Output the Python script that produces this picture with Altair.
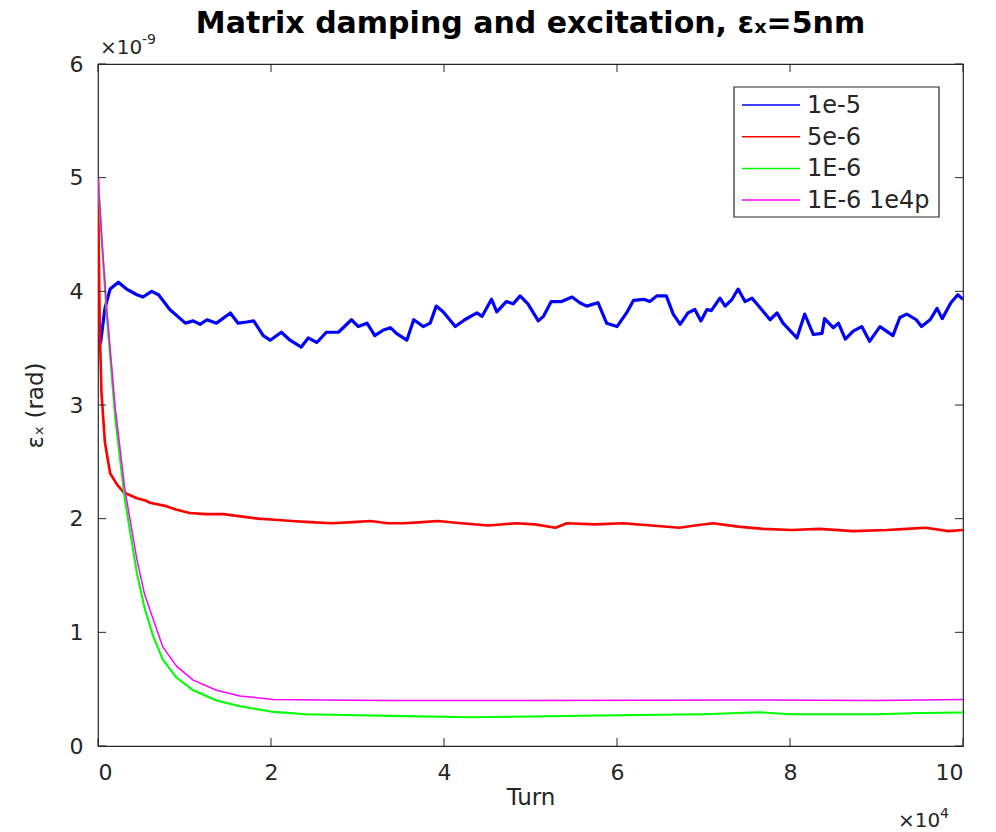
import altair as alt
import pandas as pd

# ---------------- data (x in units of 1e4 turns, y in units of 1e-9 rad) ----------------
SERIES = ["1e-5", "5e-6", "1E-6", "1E-6 1e4p"]
COLORS = ["#0000ff", "#ff0000", "#00ff00", "#ff00ff"]

blue_x = [0.00, 0.03, 0.08, 0.14, 0.235, 0.33, 0.45, 0.52, 0.62, 0.70, 0.83, 1.01, 1.10, 1.18, 1.26,
          1.37, 1.53, 1.62, 1.72, 1.80, 1.91, 1.99, 2.12, 2.22, 2.35, 2.43, 2.53, 2.64, 2.78, 2.93,
          3.01, 3.11, 3.20, 3.30, 3.38, 3.45, 3.57, 3.65, 3.76, 3.84, 3.91, 3.99, 4.13, 4.24, 4.38,
          4.44, 4.55, 4.61, 4.72, 4.80, 4.88, 4.97, 5.09, 5.15, 5.24, 5.36, 5.48, 5.57, 5.65, 5.78,
          5.88, 6.00, 6.11, 6.19, 6.31, 6.38, 6.46, 6.57, 6.65, 6.73, 6.82, 6.90, 6.97, 7.04, 7.09,
          7.19, 7.25, 7.33, 7.40, 7.48, 7.56, 7.65, 7.77, 7.85, 7.92, 8.08, 8.17, 8.27, 8.37, 8.40,
          8.50, 8.56, 8.64, 8.73, 8.83, 8.92, 9.04, 9.19, 9.27, 9.35, 9.46, 9.52, 9.62, 9.70, 9.76,
          9.86, 9.94, 10.0]
blue_y = [3.58, 3.55, 3.85, 4.02, 4.08, 4.02, 3.97, 3.95, 4.00, 3.97, 3.84, 3.72, 3.74, 3.71, 3.75,
          3.72, 3.81, 3.72, 3.73, 3.74, 3.61, 3.57, 3.64, 3.57, 3.51, 3.59, 3.55, 3.64, 3.64, 3.75,
          3.69, 3.72, 3.61, 3.66, 3.68, 3.63, 3.57, 3.75, 3.69, 3.72, 3.87, 3.82, 3.69, 3.75, 3.81,
          3.78, 3.93, 3.82, 3.91, 3.89, 3.96, 3.89, 3.74, 3.78, 3.91, 3.91, 3.95, 3.90, 3.87, 3.90,
          3.72, 3.69, 3.81, 3.92, 3.93, 3.91, 3.96, 3.96, 3.80, 3.71, 3.81, 3.84, 3.74, 3.84, 3.83,
          3.94, 3.87, 3.93, 4.02, 3.91, 3.94, 3.86, 3.75, 3.81, 3.72, 3.59, 3.80, 3.62, 3.63, 3.76,
          3.68, 3.72, 3.58, 3.65, 3.69, 3.56, 3.69, 3.61, 3.77, 3.80, 3.75, 3.69, 3.75, 3.85, 3.76,
          3.90, 3.97, 3.93]

red_x = [0.00, 0.01, 0.02, 0.04, 0.08, 0.14, 0.22, 0.30, 0.45, 0.55, 0.60, 0.79, 0.90, 1.06, 1.25,
         1.45, 1.65, 1.85, 2.05, 2.24, 2.45, 2.70, 2.95, 3.15, 3.35, 3.54, 3.75, 3.93, 4.20, 4.51,
         4.84, 5.05, 5.29, 5.42, 5.75, 6.07, 6.40, 6.72, 6.90, 7.11, 7.40, 7.69, 8.02, 8.34, 8.73,
         9.12, 9.35, 9.57, 9.83, 10.0]
red_y = [5.00, 4.30, 3.69, 3.11, 2.67, 2.40, 2.30, 2.23, 2.18, 2.16, 2.14, 2.11, 2.08, 2.05, 2.04,
         2.04, 2.02, 2.00, 1.99, 1.98, 1.97, 1.96, 1.97, 1.98, 1.96, 1.96, 1.97, 1.98, 1.96, 1.94,
         1.96, 1.95, 1.92, 1.96, 1.95, 1.96, 1.94, 1.92, 1.94, 1.96, 1.93, 1.91, 1.90, 1.91, 1.89,
         1.90, 1.91, 1.92, 1.89, 1.90]

green_x = [0.00, 0.05, 0.10, 0.20, 0.31, 0.45, 0.54, 0.64, 0.75, 0.91, 1.10, 1.37, 1.64, 2.03, 2.41,
           3.00, 3.38, 4.31, 5.00, 6.00, 7.00, 7.64, 8.00, 9.00, 9.50, 10.0]
green_y = [5.00, 4.37, 3.80, 2.88, 2.17, 1.52, 1.21, 0.96, 0.76, 0.60, 0.49, 0.40, 0.35, 0.30, 0.28,
           0.27, 0.265, 0.253, 0.26, 0.27, 0.28, 0.297, 0.28, 0.28, 0.29, 0.295]

magenta_x = [0.00, 0.05, 0.10, 0.20, 0.31, 0.45, 0.54, 0.64, 0.75, 0.91, 1.10, 1.37, 1.64, 2.03, 2.60,
             3.38, 5.00, 7.50, 9.00, 10.0]
magenta_y = [5.00, 4.40, 3.86, 2.97, 2.26, 1.64, 1.33, 1.11, 0.87, 0.70, 0.58, 0.49, 0.44, 0.41, 0.405,
             0.40, 0.40, 0.405, 0.40, 0.41]

X_TICKS = [0, 2, 4, 6, 8, 10]
Y_TICKS = [0, 1, 2, 3, 4, 5, 6]

# ---------------- build table ----------------
rows = []
for name, xs, ys in zip(SERIES, [blue_x, red_x, green_x, magenta_x], [blue_y, red_y, green_y, magenta_y]):
    for i, (a, b) in enumerate(zip(xs, ys)):
        rows.append({"series": name, "turn": a, "emit": b, "idx": i})
df = pd.DataFrame(rows)

W, H = 865, 682
FRAME = "#262626"
FONT = "DejaVu Sans"
TICK_LEN = 8

xscale = alt.Scale(domain=[0, 10], nice=False, zero=False)
yscale = alt.Scale(domain=[0, 6], nice=False, zero=False)
cscale = alt.Scale(domain=SERIES, range=COLORS)

x_axis = alt.Axis(values=X_TICKS, title="Turn", format="d", grid=False, ticks=False, tickSize=0,
                  domain=False, labelPadding=16, titlePadding=3, labelFontSize=22, titleFontSize=23,
                  labelColor=FRAME, titleColor=FRAME, labelFont=FONT, titleFont=FONT,
                  titleFontWeight="normal")
y_axis = alt.Axis(values=Y_TICKS, title="εₓ (rad)", format="d", grid=False, ticks=False, tickSize=0,
                  domain=False, labelPadding=15, titlePadding=22, labelFontSize=22, titleFontSize=23,
                  labelColor=FRAME, titleColor=FRAME, labelFont=FONT, titleFont=FONT,
                  titleFontWeight="normal")

X = alt.X("turn:Q", scale=xscale, axis=x_axis)
Y = alt.Y("emit:Q", scale=yscale, axis=y_axis)

lines = alt.Chart(df).mark_line(clip=True, strokeJoin="round").encode(
    x=X,
    y=Y,
    color=alt.Color("series:N", scale=cscale, legend=None),
    strokeWidth=alt.StrokeWidth("series:N", scale=alt.Scale(domain=SERIES, range=[3.2, 1.5, 1.5, 1.5]),
                                legend=None),
    order="idx:Q",
)

xt = pd.DataFrame({"turn": X_TICKS})
yt = pd.DataFrame({"emit": Y_TICKS})
tick_bottom = alt.Chart(xt).mark_rule(color=FRAME, strokeWidth=1).encode(
    x=X, y=alt.value(H), y2=alt.value(H - TICK_LEN))
tick_top = alt.Chart(xt).mark_rule(color=FRAME, strokeWidth=1).encode(
    x=X, y=alt.value(0), y2=alt.value(TICK_LEN))
tick_left = alt.Chart(yt).mark_rule(color=FRAME, strokeWidth=1).encode(
    y=Y, x=alt.value(0), x2=alt.value(TICK_LEN))
tick_right = alt.Chart(yt).mark_rule(color=FRAME, strokeWidth=1).encode(
    y=Y, x=alt.value(W - TICK_LEN), x2=alt.value(W))

one = pd.DataFrame({"k": [0]})


def label(txt, x, y, size, align="left", color=FRAME, baseline="alphabetic"):
    return alt.Chart(one).mark_text(align=align, baseline=baseline, font=FONT, fontSize=size,
                                    color=color).encode(
        x=alt.value(x), y=alt.value(y), text=alt.value(txt))


# MATLAB-style exponent labels
exp_layers = [
    label("×10", 2, -10, 20),
    label("-9", 44, -20, 14),
    label("×10", 800, H + 81, 20),
    label("4", 842, H + 72, 14),
]

# legend (box, line samples, labels)
LX0, LX1, LY0, LY1 = 636, 841, 23, 153
legend_box = alt.Chart(one).mark_rect(fill="white", stroke=FRAME, strokeWidth=1.2).encode(
    x=alt.value(LX0), x2=alt.value(LX1), y=alt.value(LY0), y2=alt.value(LY1))
legend_layers = [legend_box]
for i, (name, col) in enumerate(zip(SERIES, COLORS)):
    ry = 41 + i * 31.7
    legend_layers.append(alt.Chart(one).mark_rule(strokeWidth=1.5).encode(
        x=alt.value(644), x2=alt.value(702), y=alt.value(ry), color=alt.value(col)))
    legend_layers.append(label(name, 709, ry + 1, 24, baseline="middle"))

chart = alt.layer(
    lines, tick_bottom, tick_top, tick_left, tick_right, *exp_layers, *legend_layers
).properties(
    width=W,
    height=H,
    title=alt.TitleParams("Matrix damping and excitation, εₓ=5nm", font=FONT, fontSize=30,
                          fontWeight="bold", color="black", anchor="middle", offset=0, dy=30,
                          baseline="alphabetic"),
    padding={"left": 98, "top": 64, "right": 33, "bottom": 86},
    autosize=alt.AutoSizeParams(type="none"),
    background="white",
).configure_view(
    stroke=FRAME, strokeWidth=1.2
)

chart.save("out.html", embed_options={"renderer": "svg", "actions": False})
